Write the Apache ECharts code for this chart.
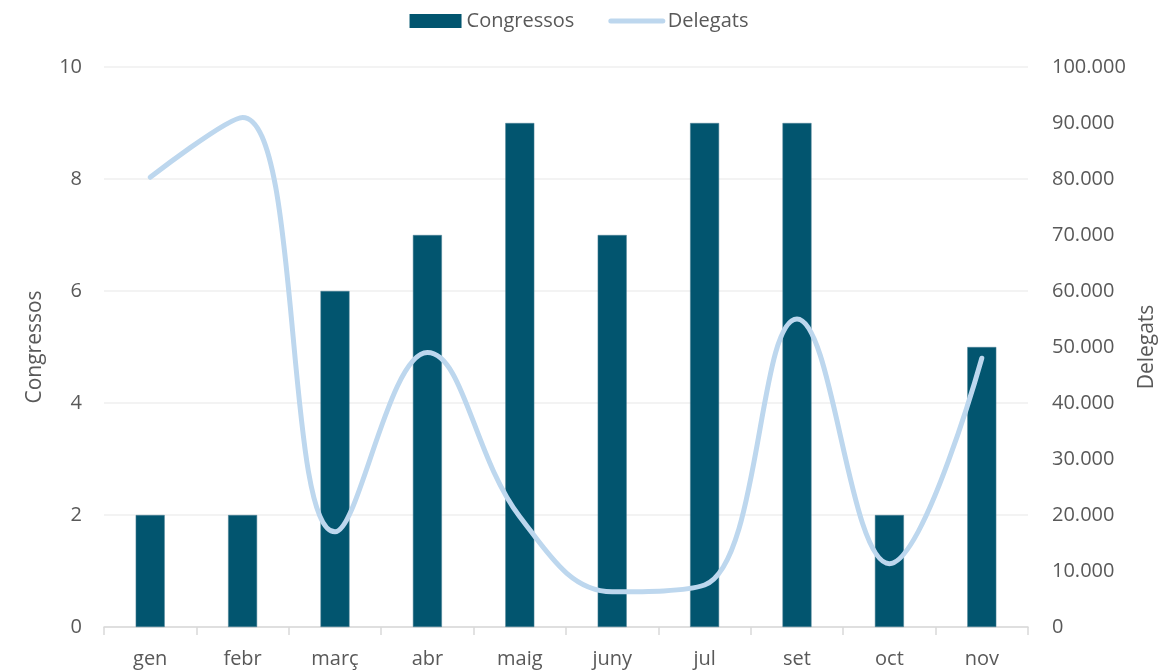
<!DOCTYPE html>
<html>
<head>
<meta charset="utf-8">
<script src="https://cdn.jsdelivr.net/npm/echarts@6/dist/echarts.min.js"></script>
<style>
  html, body { margin: 0; padding: 0; background: #fff; }
  #chart { width: 1158px; height: 671px; }
</style>
</head>
<body>
<div id="chart"></div>
<script>
const months = ["gen", "febr", "març", "abr", "maig", "juny", "jul", "set", "oct", "nov"];
const congressos = [2, 2, 6, 7, 9, 7, 9, 9, 2, 5];
const delegats = [80300, 91000, 17000, 49000, 19700, 6300, 7500, 55000, 11300, 48000];

const textColor = "#595959";
const font = "'Open Sans', 'Noto Sans', sans-serif";

const fmtDots = (v) => String(v).replace(/\B(?=(\d{3})+(?!\d))/g, ".");

const chart = echarts.init(document.getElementById("chart"));
chart.setOption({
  animation: false,
  textStyle: { fontFamily: font },
  legend: {
    top: 6,
    left: "center",
    itemGap: 34,
    itemWidth: 52,
    itemHeight: 14,
    textStyle: { color: textColor, fontSize: 20, fontFamily: font },
    data: [
      { name: "Congressos", icon: "rect", itemStyle: { borderWidth: 0 } },
      {
        name: "Delegats",
        itemStyle: { opacity: 0 },
        lineStyle: { color: "#bdd7ee", width: 5, cap: "round" },
      },
    ],
  },
  grid: { left: 104, right: 130, top: 67, bottom: 44, outerBoundsMode: "none", containLabel: false },
  xAxis: {
    type: "category",
    data: months,
    axisLine: { lineStyle: { color: "#d9d9d9", width: 1.5 } },
    axisTick: { show: true, length: 8, lineStyle: { color: "#d9d9d9", width: 1.5 } },
    axisLabel: { color: textColor, fontSize: 20, margin: 22, fontFamily: font },
  },
  yAxis: [
    {
      type: "value",
      name: "Congressos",
      nameLocation: "middle",
      nameRotate: 90,
      nameGap: 58,
      nameTextStyle: { color: textColor, fontSize: 21, fontFamily: font },
      min: 0,
      max: 10,
      interval: 2,
      axisLine: { show: false },
      axisTick: { show: false },
      axisLabel: { color: textColor, fontSize: 20, margin: 22, fontFamily: font },
      splitLine: { lineStyle: { color: "#efefef", width: 1.5 } },
    },
    {
      type: "value",
      name: "Delegats",
      nameLocation: "middle",
      nameRotate: 90,
      nameGap: 101,
      nameTextStyle: { color: textColor, fontSize: 21, fontFamily: font },
      min: 0,
      max: 100000,
      interval: 10000,
      axisLine: { show: false },
      axisTick: { show: false },
      splitLine: { show: false },
      axisLabel: {
        color: textColor,
        fontSize: 20,
        margin: 24,
        fontFamily: font,
        formatter: fmtDots,
      },
    },
  ],
  series: [
    {
      name: "Congressos",
      type: "bar",
      data: congressos,
      barWidth: 29,
      itemStyle: { color: "#02556f", borderColor: "#4f8196", borderWidth: 0.5 },
    },
    {
      name: "Delegats",
      type: "line",
      yAxisIndex: 1,
      data: delegats,
      smooth: 0.4,
      symbol: "none",
      lineStyle: { color: "#bdd7ee", width: 5, cap: "round" },
      itemStyle: { color: "#bdd7ee" },
    },
  ],
});
</script>
</body>
</html>
